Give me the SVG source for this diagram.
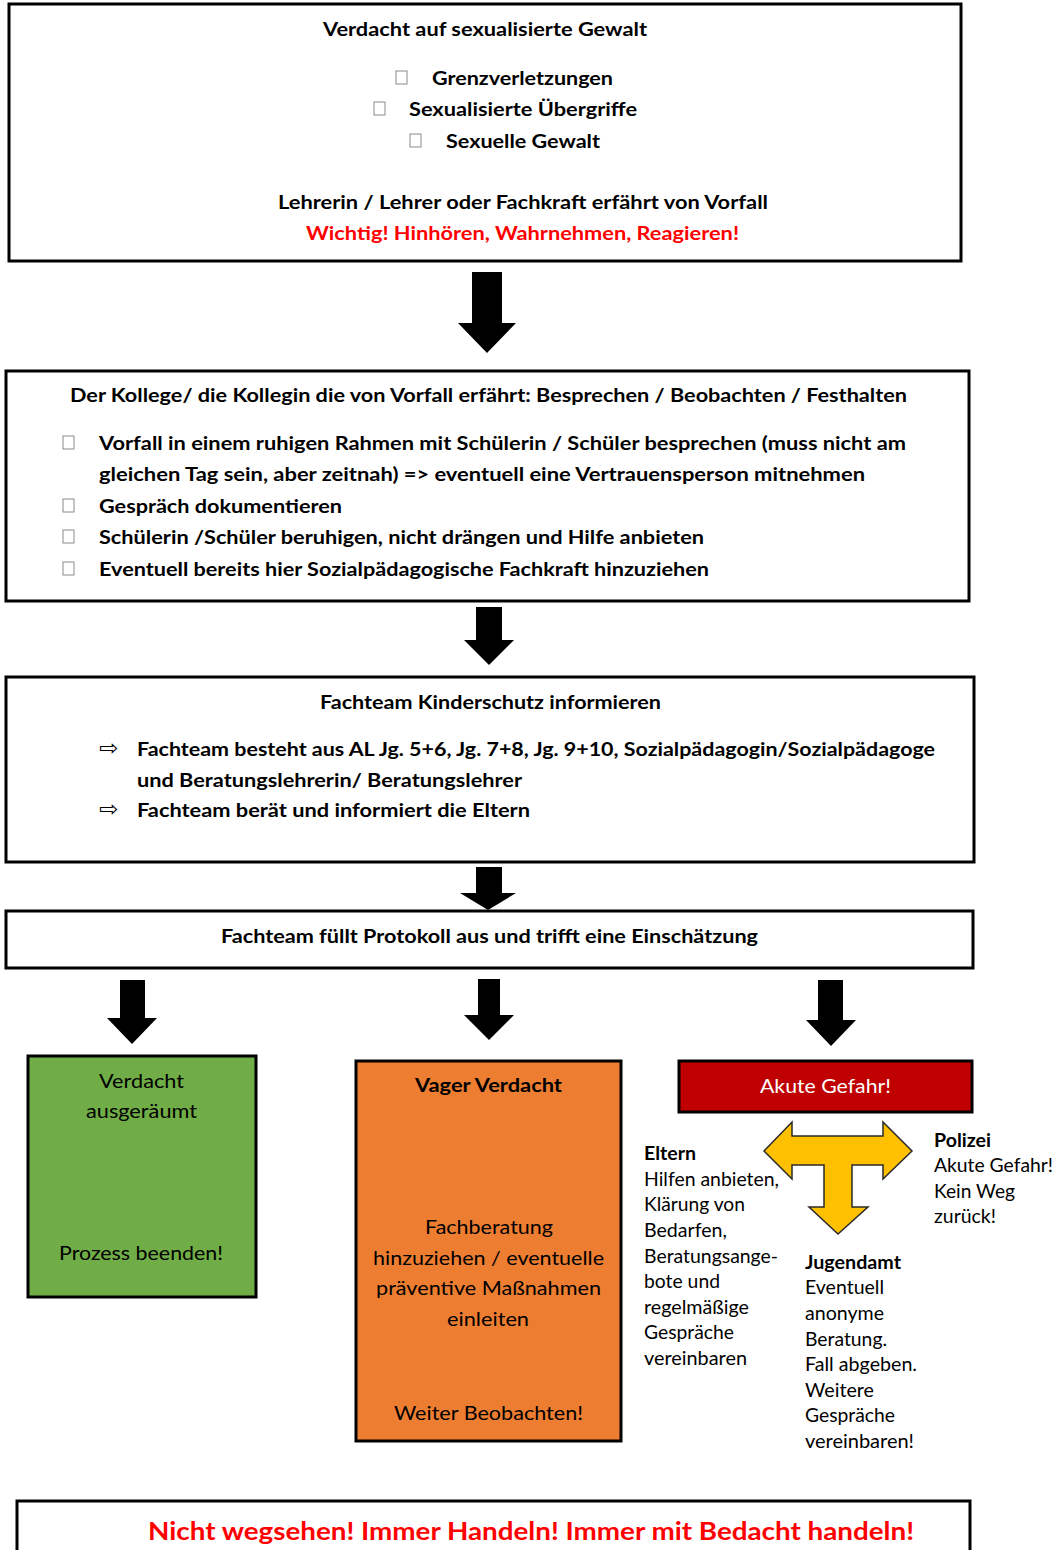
<svg xmlns="http://www.w3.org/2000/svg" width="1062" height="1550" viewBox="0 0 1062 1550">
<style>
.box{fill:#fff;stroke:#000;stroke-width:3}
.t{font-family:Lato,"Open Sans","Liberation Sans",sans-serif;font-size:19px;fill:#000}
.b{font-weight:bold}
.red{fill:#ff0000}
.cb{fill:none;stroke:#8a8a8a;stroke-width:1}
.arr{fill:#000}
.sym{font-family:"DejaVu Sans",sans-serif;font-size:21px;fill:#000}
</style>
<rect width="1062" height="1550" fill="#fff"/>
<g id="connectors">
<polygon class="arr" points="472,272 502,272 502,323 516,323 487,353 458,323 472,323"/>
<polygon class="arr" points="476,607 502,607 502,640 514,640 489,665 464,640 476,640"/>
<polygon class="arr" points="476,867 502,867 502,893 516,893 488,910 460,893 476,893"/>
<polygon class="arr" points="120,980 145,980 145,1018 157,1018 132,1044 107,1018 120,1018"/>
<polygon class="arr" points="478,979 500,979 500,1015 514,1015 489,1040 464,1015 478,1015"/>
<polygon class="arr" points="818,980 843,980 843,1020 856,1020 831,1046 806,1020 818,1020"/>
<polygon points="764,1151 792,1122 792,1136 883,1136 883,1122 912,1151 883,1179 883,1165 852,1165 852,1207 868,1207 838,1234 809,1207 824,1207 824,1165 792,1165 792,1179" fill="#ffc000" stroke="#2a2a2a" stroke-width="1.5" stroke-linejoin="miter"/>
</g>
<g id="node-verdacht">
<rect class="box" x="9" y="4" width="952" height="257"/>
<text class="t b" x="323" y="36" textLength="324" lengthAdjust="spacingAndGlyphs">Verdacht auf sexualisierte Gewalt</text>
<rect class="cb" x="396" y="71" width="11" height="13"/>
<text class="t b" x="432" y="85" textLength="181" lengthAdjust="spacingAndGlyphs">Grenzverletzungen</text>
<rect class="cb" x="374" y="102" width="11" height="13"/>
<text class="t b" x="409" y="116" textLength="228" lengthAdjust="spacingAndGlyphs">Sexualisierte Übergriffe</text>
<rect class="cb" x="410" y="134" width="11" height="13"/>
<text class="t b" x="446" y="148" textLength="154" lengthAdjust="spacingAndGlyphs">Sexuelle Gewalt</text>
<text class="t b" x="278" y="209" textLength="490" lengthAdjust="spacingAndGlyphs">Lehrerin / Lehrer oder Fachkraft erfährt von Vorfall</text>
<text class="t b red" x="306" y="240" textLength="433" lengthAdjust="spacingAndGlyphs">Wichtig! Hinhören, Wahrnehmen, Reagieren!</text>
</g>
<g id="node-kollege">
<rect class="box" x="6" y="371" width="963" height="230"/>
<text class="t b" x="70" y="402" textLength="837" lengthAdjust="spacingAndGlyphs">Der Kollege/ die Kollegin die von Vorfall erfährt: Besprechen / Beobachten / Festhalten</text>
<rect class="cb" x="63" y="436" width="11" height="13"/>
<text class="t b" x="99" y="450" textLength="807" lengthAdjust="spacingAndGlyphs">Vorfall in einem ruhigen Rahmen mit Schülerin / Schüler besprechen (muss nicht am</text>
<text class="t b" x="99" y="481" textLength="766" lengthAdjust="spacingAndGlyphs">gleichen Tag sein, aber zeitnah) =&gt; eventuell eine Vertrauensperson mitnehmen</text>
<rect class="cb" x="63" y="499" width="11" height="13"/>
<text class="t b" x="99" y="513" textLength="243" lengthAdjust="spacingAndGlyphs">Gespräch dokumentieren</text>
<rect class="cb" x="63" y="530" width="11" height="13"/>
<text class="t b" x="99" y="544" textLength="605" lengthAdjust="spacingAndGlyphs">Schülerin /Schüler beruhigen, nicht drängen und Hilfe anbieten</text>
<rect class="cb" x="63" y="562" width="11" height="13"/>
<text class="t b" x="99" y="576" textLength="610" lengthAdjust="spacingAndGlyphs">Eventuell bereits hier Sozialpädagogische Fachkraft hinzuziehen</text>
</g>
<g id="node-fachteam">
<rect class="box" x="6" y="677" width="968" height="185"/>
<text class="t b" x="320" y="709" textLength="341" lengthAdjust="spacingAndGlyphs">Fachteam Kinderschutz informieren</text>
<text class="sym" x="99" y="755" textLength="19" lengthAdjust="spacingAndGlyphs">⇨</text>
<text class="t b" x="137" y="756" textLength="798" lengthAdjust="spacingAndGlyphs">Fachteam besteht aus AL Jg. 5+6, Jg. 7+8, Jg. 9+10, Sozialpädagogin/Sozialpädagoge</text>
<text class="t b" x="137" y="787" textLength="385" lengthAdjust="spacingAndGlyphs">und Beratungslehrerin/ Beratungslehrer</text>
<text class="sym" x="99" y="816" textLength="19" lengthAdjust="spacingAndGlyphs">⇨</text>
<text class="t b" x="137" y="817" textLength="393" lengthAdjust="spacingAndGlyphs">Fachteam berät und informiert die Eltern</text>
</g>
<g id="node-protokoll">
<rect class="box" x="6" y="911" width="967" height="57"/>
<text class="t b" x="221" y="943" textLength="537" lengthAdjust="spacingAndGlyphs">Fachteam füllt Protokoll aus und trifft eine Einschätzung</text>
</g>
<g id="node-ausgeraeumt">
<rect x="28" y="1056" width="228" height="241" fill="#70ad47" stroke="#000" stroke-width="3"/>
<text class="t" x="99" y="1088" textLength="85" lengthAdjust="spacingAndGlyphs">Verdacht</text>
<text class="t" x="86" y="1118" textLength="111" lengthAdjust="spacingAndGlyphs">ausgeräumt</text>
<text class="t" x="59" y="1260" textLength="164" lengthAdjust="spacingAndGlyphs">Prozess beenden!</text>
</g>
<g id="node-vager">
<rect x="356" y="1061" width="265" height="380" fill="#ed7d31" stroke="#000" stroke-width="3"/>
<text class="t b" x="415" y="1092" textLength="147" lengthAdjust="spacingAndGlyphs">Vager Verdacht</text>
<text class="t" x="425" y="1234" textLength="128" lengthAdjust="spacingAndGlyphs">Fachberatung</text>
<text class="t" x="373" y="1265" textLength="231" lengthAdjust="spacingAndGlyphs">hinzuziehen / eventuelle</text>
<text class="t" x="376" y="1295" textLength="225" lengthAdjust="spacingAndGlyphs">präventive Maßnahmen</text>
<text class="t" x="447" y="1326" textLength="82" lengthAdjust="spacingAndGlyphs">einleiten</text>
<text class="t" x="394" y="1420" textLength="189" lengthAdjust="spacingAndGlyphs">Weiter Beobachten!</text>
</g>
<g id="node-akut">
<rect x="679" y="1061" width="293" height="51" fill="#c00000" stroke="#000" stroke-width="3"/>
<text class="t" x="760" y="1093" style="fill:#fff" textLength="131" lengthAdjust="spacingAndGlyphs">Akute Gefahr!</text>
</g>
<g id="node-eltern">
<text class="t b" x="644" y="1160" textLength="52" lengthAdjust="spacingAndGlyphs">Eltern</text>
<text class="t" x="644" y="1186" textLength="135" lengthAdjust="spacingAndGlyphs">Hilfen anbieten,</text>
<text class="t" x="644" y="1211" textLength="101" lengthAdjust="spacingAndGlyphs">Klärung von</text>
<text class="t" x="644" y="1237" textLength="83" lengthAdjust="spacingAndGlyphs">Bedarfen,</text>
<text class="t" x="644" y="1263" textLength="134" lengthAdjust="spacingAndGlyphs">Beratungsange-</text>
<text class="t" x="644" y="1288" textLength="76" lengthAdjust="spacingAndGlyphs">bote und</text>
<text class="t" x="644" y="1314" textLength="105" lengthAdjust="spacingAndGlyphs">regelmäßige</text>
<text class="t" x="644" y="1339" textLength="90" lengthAdjust="spacingAndGlyphs">Gespräche</text>
<text class="t" x="644" y="1365" textLength="103" lengthAdjust="spacingAndGlyphs">vereinbaren</text>
</g>
<g id="node-polizei">
<text class="t b" x="934" y="1147" textLength="57" lengthAdjust="spacingAndGlyphs">Polizei</text>
<text class="t" x="934" y="1172" textLength="119" lengthAdjust="spacingAndGlyphs">Akute Gefahr!</text>
<text class="t" x="934" y="1198" textLength="81" lengthAdjust="spacingAndGlyphs">Kein Weg</text>
<text class="t" x="934" y="1223" textLength="62" lengthAdjust="spacingAndGlyphs">zurück!</text>
</g>
<g id="node-jugendamt">
<text class="t b" x="805" y="1269" textLength="96" lengthAdjust="spacingAndGlyphs">Jugendamt</text>
<text class="t" x="805" y="1294" textLength="79" lengthAdjust="spacingAndGlyphs">Eventuell</text>
<text class="t" x="805" y="1320" textLength="79" lengthAdjust="spacingAndGlyphs">anonyme</text>
<text class="t" x="805" y="1346" textLength="82" lengthAdjust="spacingAndGlyphs">Beratung.</text>
<text class="t" x="805" y="1371" textLength="112" lengthAdjust="spacingAndGlyphs">Fall abgeben.</text>
<text class="t" x="805" y="1397" textLength="69" lengthAdjust="spacingAndGlyphs">Weitere</text>
<text class="t" x="805" y="1422" textLength="90" lengthAdjust="spacingAndGlyphs">Gespräche</text>
<text class="t" x="805" y="1448" textLength="109" lengthAdjust="spacingAndGlyphs">vereinbaren!</text>
</g>
<g id="node-fazit">
<rect class="box" x="17" y="1501" width="953" height="60"/>
<text class="t b red" x="148" y="1540" style="font-size:25px" textLength="766" lengthAdjust="spacingAndGlyphs">Nicht wegsehen! Immer Handeln! Immer mit Bedacht handeln!</text>
</g>
</svg>
